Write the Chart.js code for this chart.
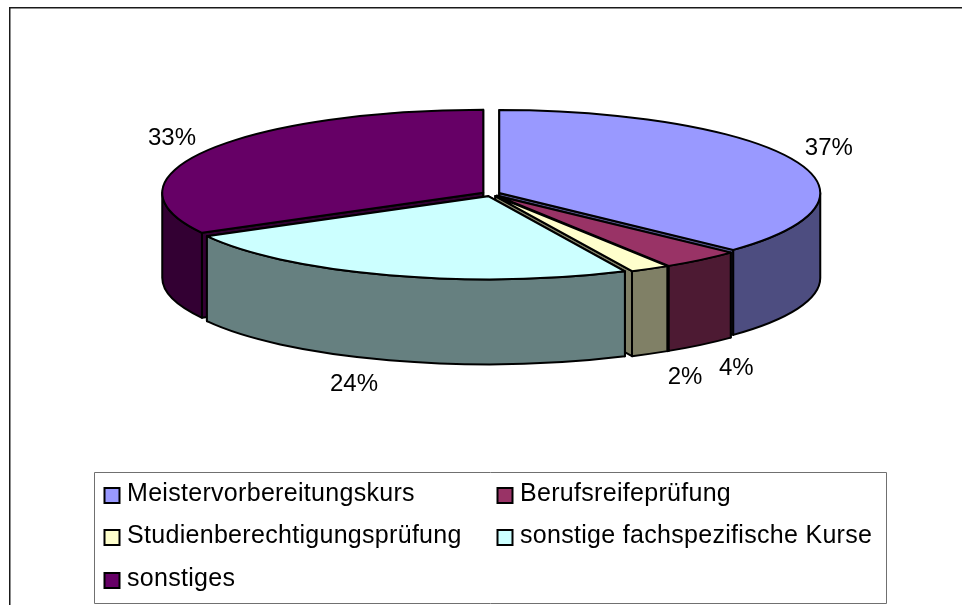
<!DOCTYPE html>
<html>
<head>
<meta charset="utf-8">
<style>html,body{margin:0;padding:0;background:#fff}canvas{display:block}</style>
<script src="https://cdn.jsdelivr.net/npm/chart.js@4"></script>
</head>
<body>
<canvas id="c" width="962" height="605"></canvas>
<script>
const categories = ['Meistervorbereitungskurs','Berufsreifeprüfung','Studienberechtigungsprüfung','sonstige fachspezifische Kurse','sonstiges'];
const values = [37,4,2,24,33];
const topColors = ['#9999FF','#993366','#FFFFCC','#CCFFFF','#660066'];
const wallColors = ['#4D4D80','#4D1A33','#808066','#668080','#330033'];
const explode = [9,9,9,9,9];
const drawOrder = [0,4,1,2,3];

const TILT = 0.2586, DEPTH = 85, FONT = '24px "Liberation Sans", Arial, sans-serif', LEGEND_FONT = '25px "Liberation Sans", Arial, sans-serif';

function stroke(ctx){ ctx.lineWidth = 2; ctx.strokeStyle = '#000'; ctx.lineJoin='round'; ctx.stroke(); }
function ry(g){ return g.r*TILT; }

const pie3d = {
  id:'pie3d',
  beforeDatasetDraw(chart){
    const ctx = chart.ctx, arcs = chart.getDatasetMeta(0).data;
    const geo = arcs.map((el,i)=>{
      const mid = (el.startAngle+el.endAngle)/2, d = explode[i];
      return {cx:el.x+Math.cos(mid)*d, cy:el.y+Math.sin(mid)*d*TILT, r:el.outerRadius, a:el.startAngle, b:el.endAngle, mid};
    });
    drawOrder.forEach(i=>{
      const g = geo[i], h = ry(g);
      ctx.save();
      [g.a,g.b].forEach(t=>{
        const ex=g.cx+Math.cos(t)*g.r, ey=g.cy+Math.sin(t)*h;
        ctx.beginPath();
        ctx.moveTo(g.cx,g.cy); ctx.lineTo(ex,ey); ctx.lineTo(ex,ey+DEPTH); ctx.lineTo(g.cx,g.cy+DEPTH); ctx.closePath();
        ctx.fillStyle=wallColors[i]; ctx.fill(); stroke(ctx);
      });
      [[0,Math.PI],[2*Math.PI,3*Math.PI],[-2*Math.PI,-Math.PI]].forEach(([lo,hi])=>{
        const s=Math.max(g.a,lo), e=Math.min(g.b,hi);
        if(e>s){
          ctx.beginPath();
          ctx.ellipse(g.cx,g.cy,g.r,h,0,s,e);
          ctx.ellipse(g.cx,g.cy+DEPTH,g.r,h,0,e,s,true);
          ctx.closePath();
          ctx.fillStyle=wallColors[i]; ctx.fill(); stroke(ctx);
        }
      });
      ctx.beginPath();
      ctx.moveTo(g.cx,g.cy);
      ctx.ellipse(g.cx,g.cy,g.r,h,0,g.a,g.b);
      ctx.closePath();
      ctx.fillStyle=topColors[i]; ctx.fill(); stroke(ctx);
      ctx.restore();
    });
    ctx.save();
    ctx.font=FONT; ctx.fillStyle='#000'; ctx.textAlign='center'; ctx.textBaseline='middle';
    geo.forEach((g,i)=>{
      const c=Math.cos(g.mid), s=Math.sin(g.mid);
      const x=g.cx+c*g.r+Math.sign(c)*35;
      const y=g.cy+s*ry(g)+(s>0?DEPTH+24:-12);
      ctx.fillText(values[i]+'%',x,y);
    });
    ctx.restore();
    return false;
  },
  afterDraw(chart){
    const ctx=chart.ctx;
    ctx.save();
    ctx.strokeStyle='#1a1a1a'; ctx.lineWidth=1.5;
    ctx.beginPath(); ctx.moveTo(9.75,605); ctx.lineTo(9.75,7.75); ctx.lineTo(962,7.75); ctx.stroke();
    const box={l:94.5,t:472.5,r:886.5,b:603.5};
    ctx.strokeStyle='#707070'; ctx.lineWidth=1;
    ctx.fillStyle='#fff';
    ctx.beginPath(); ctx.rect(box.l,box.t,box.r-box.l,box.b-box.t); ctx.fill(); ctx.stroke();
    const colX=[104.5,497.5], rowY=[494,536,579];
    ctx.font=LEGEND_FONT; ctx.letterSpacing='0.3px'; ctx.textBaseline='middle'; ctx.textAlign='left';
    categories.forEach((name,i)=>{
      const col=i%2, row=Math.floor(i/2), x=colX[col], y=rowY[row];
      ctx.fillStyle=topColors[i]; ctx.strokeStyle='#000'; ctx.lineWidth=2;
      ctx.beginPath(); ctx.rect(x,y-6,15,15); ctx.fill(); ctx.stroke();
      ctx.fillStyle='#000';
      ctx.fillText(name,x+22.5,y);
    });
    ctx.restore();
  }
};

new Chart(document.getElementById('c'),{
  type:'pie',
  data:{labels:categories,datasets:[{data:values,backgroundColor:topColors,radius:321}]},
  options:{
    responsive:false,animation:false,
    layout:{padding:{left:20,right:0,top:0,bottom:217}},
    plugins:{legend:{display:false},tooltip:{enabled:false}}
  },
  plugins:[pie3d]
});
</script>
</body>
</html>
